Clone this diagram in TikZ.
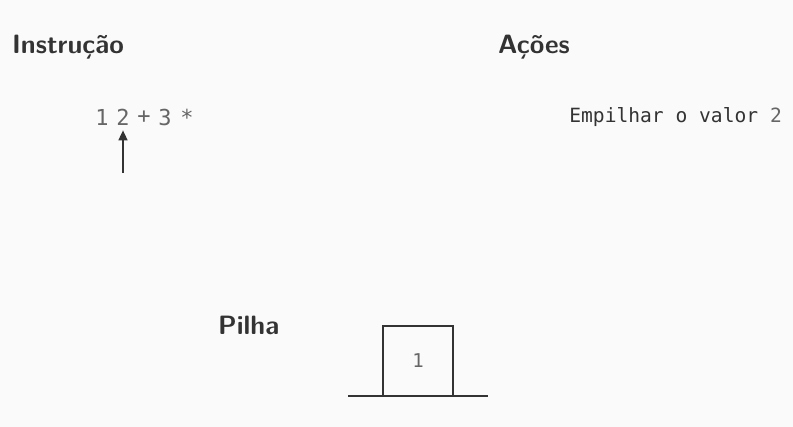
\documentclass[tikz,border=0pt]{standalone}
\usepackage{fontspec}
\usetikzlibrary{arrows.meta}
\newfontfamily\monofont{DejaVu Sans Mono}
\definecolor{bg}{HTML}{FAFAFA}
\definecolor{ink}{HTML}{333333}
\definecolor{tok}{HTML}{666666}
\begin{document}
\begin{tikzpicture}[x=1pt,y=-1pt,
  heading/.style={font=\sffamily\bfseries\fontsize{26.5}{30}\selectfont, text=ink, inner sep=0pt, anchor=base west},
  token/.style={font=\monofont\fontsize{22}{24}\selectfont, text=tok, inner sep=0pt},
  action/.style={font=\monofont\fontsize{19.6}{22}\selectfont, text=ink, inner sep=0pt, anchor=east},
  line/.style={draw=ink, line width=2pt},
  pointer/.style={draw=ink, line width=1.6pt, -{Triangle[length=10pt,width=9pt]}}
]
\useasboundingbox[fill=bg] (0,0) rectangle (793,427);
\node[heading] (instr) at (12,54) {Instrução};
\node[heading] (acoes) at (498,54) {Ações};
\node[heading] (pilha) at (218,335) {Pilha};
\node[token] (t1) at (102,117) {1};
\node[token] (t2) at (123,117) {2};
\node[token] (tp) at (144,117) {+};
\node[token] (t3) at (165,117) {3};
\node[token] (ts) at (187,117) {*};
\coordinate (ptail) at (123,173);
\draw[pointer] (ptail) -- ([yshift=-5pt]t2.south);
\node[action] (act) at (782,117) {Empilhar o valor \textcolor{tok}{2}};
\node[draw=ink, line width=2pt, minimum width=70pt, minimum height=70pt, inner sep=0pt,
      font=\monofont\fontsize{19}{20}\selectfont, text=tok] (cell) at (418,361) {1};
\coordinate (baseL) at (348,396);
\coordinate (baseR) at (488,396);
\draw[line] (baseL) -- (baseR);
\end{tikzpicture}
\end{document}
